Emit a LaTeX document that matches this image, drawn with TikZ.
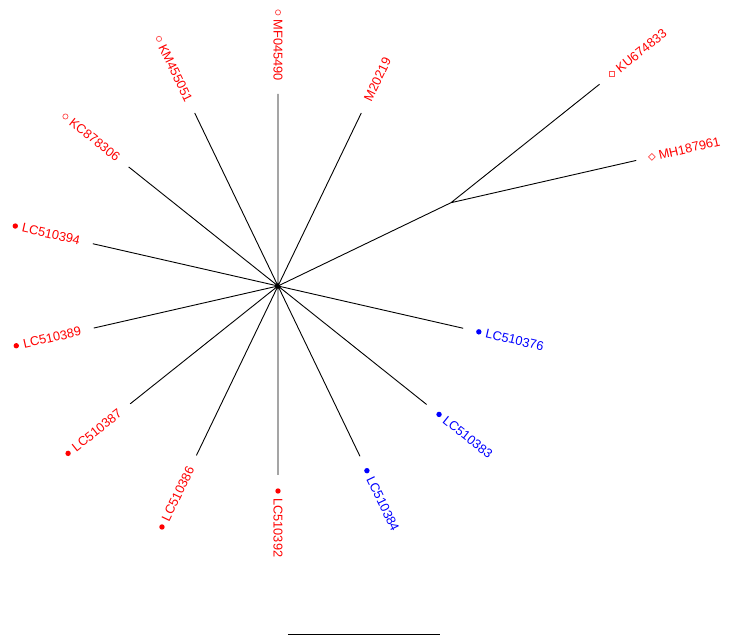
\documentclass[tikz,border=0pt]{standalone}
\usepackage{fontspec}
\setmainfont{Liberation Sans}
\usetikzlibrary{calc}
\begin{document}
\begin{tikzpicture}[
  x=1pt,y=1pt,
  br/.style={line width=0.9pt},
  lbl/.style={inner sep=0pt,text=red,font=\fontsize{12.8}{15}\selectfont},
  blbl/.style={lbl,text=blue},
  rdot/.style={circle,fill=red,inner sep=0pt,minimum size=5.4pt},
  bdot/.style={rdot,fill=blue},
  ocirc/.style={circle,draw=red!70,line width=0.7pt,inner sep=0pt,minimum size=5.2pt},
  osq/.style={rectangle,draw=red!70,line width=0.7pt,inner sep=0pt,minimum size=5pt},
  odia/.style={osq,rotate=45,minimum size=4.8pt}
]
\useasboundingbox (-278,-350) rectangle (456,286);
\coordinate (c) at (0,0);
\coordinate (tmf) at (90:192pt);
\coordinate (tm20) at (64.29:192pt);
\coordinate (tkm) at (115.71:192pt);
\coordinate (tkc) at (141.43:191pt);
\coordinate (t394) at (167.14:190pt);
\coordinate (t389) at (192.86:189pt);
\coordinate (t387) at (218.57:189pt);
\coordinate (t386) at (244.29:188pt);
\coordinate (t392) at (270:189pt);
\coordinate (t384) at (295.71:189pt);
\coordinate (t383) at (321.43:190pt);
\coordinate (t376) at (347.14:190pt);
\coordinate (k) at (25.71:192pt);
\coordinate (tku) at ($(k)+(38.57:190pt)$);
\coordinate (tmh) at ($(k)+(12.86:190pt)$);
\draw[br] (c) -- (tmf) (c) -- (tm20) (c) -- (tkm) (c) -- (tkc) (c) -- (t394) (c) -- (t389)
  (c) -- (t387) (c) -- (t386) (c) -- (t392) (c) -- (t384) (c) -- (t383) (c) -- (t376)
  (c) -- (k) (k) -- (tku) (k) -- (tmh);
\node[lbl,rotate=-90,anchor=east] (nmf) at ($(tmf)+(90:13pt)$) {MF045490};
\node[ocirc] (dmf) at ($(nmf.west)+(90:7pt)$) {};
\node[lbl,rotate=64.29,anchor=west] (nm20) at ($(tm20)+(64.29:14pt)$) {M20219};
\node[lbl,rotate=-64.29,anchor=east] (nkm) at ($(tkm)+(115.71:13pt)$) {KM455051};
\node[ocirc] (dkm) at ($(nkm.west)+(115.71:7pt)$) {};
\node[lbl,rotate=-38.57,anchor=east] (nkc) at ($(tkc)+(141.43:13pt)$) {KC878306};
\node[ocirc] (dkc) at ($(nkc.west)+(141.43:7pt)$) {};
\node[lbl,rotate=-12.86,anchor=east] (n394) at ($(t394)+(167.14:13pt)$) {LC510394};
\node[rdot] (d394) at ($(n394.west)+(167.14:7pt)$) {};
\node[lbl,rotate=12.86,anchor=east] (n389) at ($(t389)+(192.86:13pt)$) {LC510389};
\node[rdot] (d389) at ($(n389.west)+(192.86:7pt)$) {};
\node[lbl,rotate=38.57,anchor=east] (n387) at ($(t387)+(218.57:13pt)$) {LC510387};
\node[rdot] (d387) at ($(n387.west)+(218.57:7pt)$) {};
\node[lbl,rotate=64.29,anchor=east] (n386) at ($(t386)+(244.29:13pt)$) {LC510386};
\node[rdot] (d386) at ($(n386.west)+(244.29:7pt)$) {};
\node[rdot] (d392) at ($(t392)+(270:16pt)$) {};
\node[lbl,rotate=-90,anchor=west] (n392) at ($(t392)+(270:23pt)$) {LC510392};
\node[bdot] (d384) at ($(t384)+(295.71:16pt)$) {};
\node[blbl,rotate=-64.29,anchor=west] (n384) at ($(t384)+(295.71:23pt)$) {LC510384};
\node[bdot] (d383) at ($(t383)+(321.43:16pt)$) {};
\node[blbl,rotate=-38.57,anchor=west] (n383) at ($(t383)+(321.43:23pt)$) {LC510383};
\node[bdot] (d376) at ($(t376)+(347.14:16pt)$) {};
\node[blbl,rotate=-12.86,anchor=west] (n376) at ($(t376)+(347.14:23pt)$) {LC510376};
\node[osq] (dku) at ($(tku)+(38.57:16pt)$) {};
\node[lbl,rotate=38.57,anchor=west] (nku) at ($(tku)+(38.57:23pt)$) {KU674833};
\node[odia] (dmh) at ($(tmh)+(12.86:16pt)$) {};
\node[lbl,rotate=12.86,anchor=west] (nmh) at ($(tmh)+(12.86:23pt)$) {MH187961};
\coordinate (sa) at (10,-348);
\coordinate (sb) at (162,-348);
\draw[br] (sa) -- (sb);
\end{tikzpicture}
\end{document}
